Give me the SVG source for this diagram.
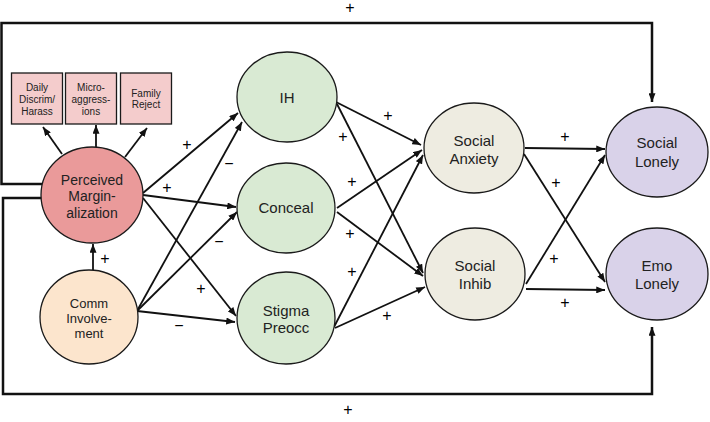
<svg xmlns="http://www.w3.org/2000/svg" width="710" height="422" viewBox="0 0 710 422">
<defs>
<marker id="ah" viewBox="0 0 10 8" refX="10" refY="4" markerWidth="9" markerHeight="7" markerUnits="userSpaceOnUse" orient="auto">
<path d="M0,0 L10,4 L0,8 z" fill="#111"/>
</marker>
</defs>
<style>
.n{stroke:#1a1a1a;stroke-width:1.3}
.t{font-family:"Liberation Sans",Arial,sans-serif;fill:#222;text-anchor:middle}
.e{stroke:#111;stroke-width:1.8;fill:none;marker-end:url(#ah)}
.f{stroke:#111;stroke-width:2.5;fill:none}
.s{font-family:"Liberation Sans",Arial,sans-serif;font-size:16px;fill:#000;text-anchor:middle}
</style>
<rect width="710" height="422" fill="#fff"/>
<g id="connectors">
<path class="f" d="M42,184 H1.5 V23 H652 V102" marker-end="url(#ah)"/>
<path class="f" d="M42,198 H3 V394 H652 V327" marker-end="url(#ah)"/>
<line class="e" x1="62" y1="154" x2="43" y2="127"/>
<line class="e" x1="96" y1="147" x2="96" y2="125"/>
<line class="e" x1="125" y1="157" x2="147" y2="128"/>
<line class="e" x1="93" y1="270" x2="93" y2="244"/>
<line class="e" x1="143" y1="193" x2="238" y2="113"/>
<line class="e" x1="143" y1="195" x2="236" y2="207"/>
<line class="e" x1="143" y1="198" x2="236" y2="316"/>
<line class="e" x1="137" y1="311" x2="242" y2="122"/>
<line class="e" x1="137" y1="311" x2="237" y2="212"/>
<line class="e" x1="137" y1="311" x2="235" y2="322"/>
<line class="e" x1="336" y1="102" x2="421" y2="145"/>
<line class="e" x1="337" y1="104" x2="423" y2="273"/>
<line class="e" x1="337" y1="208" x2="422" y2="150"/>
<line class="e" x1="337" y1="212" x2="423" y2="276"/>
<line class="e" x1="334" y1="327" x2="423" y2="155"/>
<line class="e" x1="335" y1="328" x2="425" y2="287"/>
<line class="e" x1="525" y1="148" x2="605" y2="149"/>
<line class="e" x1="524" y1="154" x2="605" y2="282"/>
<line class="e" x1="526" y1="284" x2="605" y2="155"/>
<line class="e" x1="526" y1="289" x2="605" y2="290"/>
<g id="signs">
<text class="s" x="350" y="13">+</text>
<text class="s" x="348" y="415">+</text>
<text class="s" x="105" y="264">+</text>
<text class="s" x="187" y="150">+</text>
<text class="s" x="167" y="193">+</text>
<text class="s" x="201" y="294">+</text>
<text class="s" x="229" y="169">−</text>
<text class="s" x="219" y="247">−</text>
<text class="s" x="179" y="331">−</text>
<text class="s" x="388" y="121">+</text>
<text class="s" x="343" y="142">+</text>
<text class="s" x="352" y="187">+</text>
<text class="s" x="350" y="239">+</text>
<text class="s" x="352" y="277">+</text>
<text class="s" x="387" y="321">+</text>
<text class="s" x="565" y="142">+</text>
<text class="s" x="556" y="188">+</text>
<text class="s" x="554" y="264">+</text>
<text class="s" x="565" y="308">+</text>
</g>
</g>
<g id="box-daily">
<rect class="n" x="11.5" y="73" width="51" height="51" fill="#f4cccc"/>
<text class="t" font-size="10" x="37" y="91">Daily</text>
<text class="t" font-size="10" x="37" y="103">Discrim/</text>
<text class="t" font-size="10" x="37" y="115">Harass</text>
</g>
<g id="box-micro">
<rect class="n" x="65.5" y="73" width="51" height="51" fill="#f4cccc"/>
<text class="t" font-size="10" x="91" y="91">Micro-</text>
<text class="t" font-size="10" x="91" y="103">aggress-</text>
<text class="t" font-size="10" x="91" y="115">ions</text>
</g>
<g id="box-family">
<rect class="n" x="120.5" y="73" width="51" height="51" fill="#f4cccc"/>
<text class="t" font-size="10" x="146" y="97">Family</text>
<text class="t" font-size="10" x="146" y="108">Reject</text>
</g>
<g id="node-marg">
<ellipse class="n" cx="92" cy="195" rx="51" ry="48" fill="#ea9a9a"/>
<text class="t" font-size="14" x="92" y="185">Perceived</text>
<text class="t" font-size="14" x="92" y="201">Margin-</text>
<text class="t" font-size="14" x="92" y="218">alization</text>
</g>
<g id="node-comm">
<ellipse class="n" cx="89" cy="317" rx="49" ry="47" fill="#fce5cd"/>
<text class="t" font-size="13" x="89" y="308">Comm</text>
<text class="t" font-size="13" x="89" y="323">Involve-</text>
<text class="t" font-size="13" x="89" y="338">ment</text>
</g>
<g id="node-ih">
<ellipse class="n" cx="287" cy="97" rx="50" ry="45" fill="#d9ead3"/>
<text class="t" font-size="15" x="287" y="103">IH</text>
</g>
<g id="node-conceal">
<ellipse class="n" cx="286" cy="208" rx="49" ry="45" fill="#d9ead3"/>
<text class="t" font-size="15" x="286" y="213">Conceal</text>
</g>
<g id="node-stigma">
<ellipse class="n" cx="286" cy="318" rx="49" ry="46" fill="#d9ead3"/>
<text class="t" font-size="15" x="286" y="316">Stigma</text>
<text class="t" font-size="15" x="286" y="333">Preocc</text>
</g>
<g id="node-sa">
<ellipse class="n" cx="474" cy="148" rx="50" ry="45" fill="#eeece1"/>
<text class="t" font-size="15" x="474" y="146">Social</text>
<text class="t" font-size="15" x="474" y="164">Anxiety</text>
</g>
<g id="node-si">
<ellipse class="n" cx="475" cy="274" rx="50" ry="46" fill="#eeece1"/>
<text class="t" font-size="15" x="475" y="271">Social</text>
<text class="t" font-size="15" x="475" y="289">Inhib</text>
</g>
<g id="node-sl">
<ellipse class="n" cx="657" cy="152" rx="51" ry="45" fill="#d9d2e9"/>
<text class="t" font-size="15" x="657" y="148">Social</text>
<text class="t" font-size="15" x="657" y="167">Lonely</text>
</g>
<g id="node-el">
<ellipse class="n" cx="657" cy="274" rx="51" ry="46" fill="#d9d2e9"/>
<text class="t" font-size="15" x="657" y="271">Emo</text>
<text class="t" font-size="15" x="657" y="289">Lonely</text>
</g>
</svg>
